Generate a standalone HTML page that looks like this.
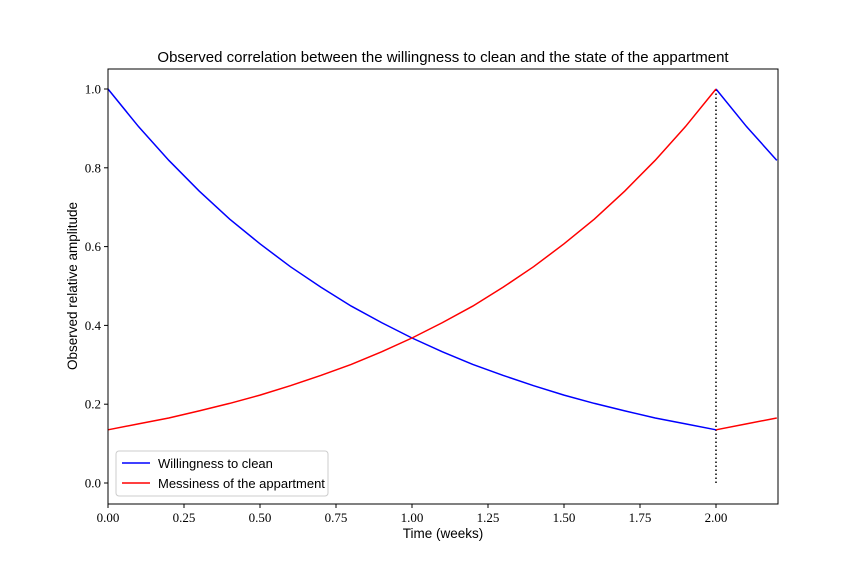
<!DOCTYPE html>
<html><head><meta charset="utf-8"><style>
body{margin:0;background:#fff}
text{font-family:"Liberation Serif",serif}
.s{font-family:"Liberation Sans",sans-serif}
</style></head><body>
<svg id="c" width="864" height="576" xmlns="http://www.w3.org/2000/svg">
<rect width="864" height="576" fill="#fff"/>
<text class="s" x="443" y="62" font-size="15" text-anchor="middle">Observed correlation between the willingness to clean and the state of the appartment</text>
<text class="s" x="443" y="538" font-size="13.5" text-anchor="middle">Time (weeks)</text>
<text class="s" x="77" y="286" font-size="13.5" text-anchor="middle" transform="rotate(-90 77 286)">Observed relative amplitude</text>
<g id="g"></g>
<rect x="108" y="69" width="670" height="435" fill="none" stroke="#000" stroke-width="1"/>
<g>
<rect x="116" y="451" width="212" height="45" rx="3" fill="#fff" fill-opacity="0.8" stroke="#ccc"/>
<line x1="122" y1="463" x2="150" y2="463" stroke="#0000ff" stroke-width="1.5"/>
<text class="s" x="158" y="468" font-size="13">Willingness to clean</text>
<line x1="122" y1="483" x2="150" y2="483" stroke="#ff0000" stroke-width="1.5"/>
<text class="s" x="158" y="488" font-size="13">Messiness of the appartment</text>
</g>
</svg>
<script>
const tA=[0,0.1,0.2,0.3,0.4,0.5,0.6,0.7,0.8,0.9,1.0,1.1,1.2,1.3,1.4,1.5,1.6,1.7,1.8,1.9,2.0];
const blueA=[1,0.905,0.819,0.741,0.670,0.607,0.549,0.497,0.449,0.407,0.368,0.333,0.301,0.273,0.247,0.223,0.202,0.183,0.165,0.150,0.135];
const redA=[0.135,0.150,0.165,0.183,0.202,0.223,0.247,0.273,0.301,0.333,0.368,0.407,0.449,0.497,0.549,0.607,0.670,0.741,0.819,0.905,1.0];
const tB=[2.0,2.1,2.2];
const blueB=[1.0,0.905,0.819];
const redB=[0.135,0.150,0.165];
const xTicks=[0,0.25,0.5,0.75,1.0,1.25,1.5,1.75,2.0];
const xTickLabels=["0.00","0.25","0.50","0.75","1.00","1.25","1.50","1.75","2.00"];
const yTicks=[0,0.2,0.4,0.6,0.8,1.0];
const yTickLabels=["0.0","0.2","0.4","0.6","0.8","1.0"];
const markerX=2.0;
const X=v=>108+v*304, Y=v=>483-v*394;
const g=document.getElementById('g'),NS="http://www.w3.org/2000/svg";
function mk(t,a){const e=document.createElementNS(NS,t);for(const k in a)e.setAttribute(k,a[k]);g.appendChild(e);return e;}
xTicks.forEach((v,i)=>{
 const l=mk('line',{x1:X(v),x2:X(v),y1:504,y2:508,stroke:'#000'});
 
 
 const t=mk('text',{x:X(v),y:522,'font-size':13,'text-anchor':'middle'});t.textContent=xTickLabels[i];
 
 
});
yTicks.forEach((v,i)=>{
 const l=mk('line',{x1:104,x2:108,y1:Y(v),y2:Y(v),stroke:'#000'});
 
 
 const t=mk('text',{x:101,y:Y(v)+4.5,'font-size':13,'text-anchor':'end'});t.textContent=yTickLabels[i];
 
 
});
const vl=mk('line',{x1:X(markerX),x2:X(markerX),y1:Y(0),y2:Y(1),stroke:'#000','stroke-width':1.5,'stroke-dasharray':'1.5,2.5'});


function line(ts,vs,c,n){const p=mk('polyline',{points:ts.map((t,i)=>X(t)+','+Y(vs[i])).join(' '),fill:'none',stroke:c,'stroke-width':1.5});
 
 }
line(tA,blueA,'#0000ff','willingness-line-1');
line(tB,blueB,'#0000ff','willingness-line-2');
line(tA,redA,'#ff0000','messiness-line-1');
line(tB,redB,'#ff0000','messiness-line-2');
</script>
</body></html>
